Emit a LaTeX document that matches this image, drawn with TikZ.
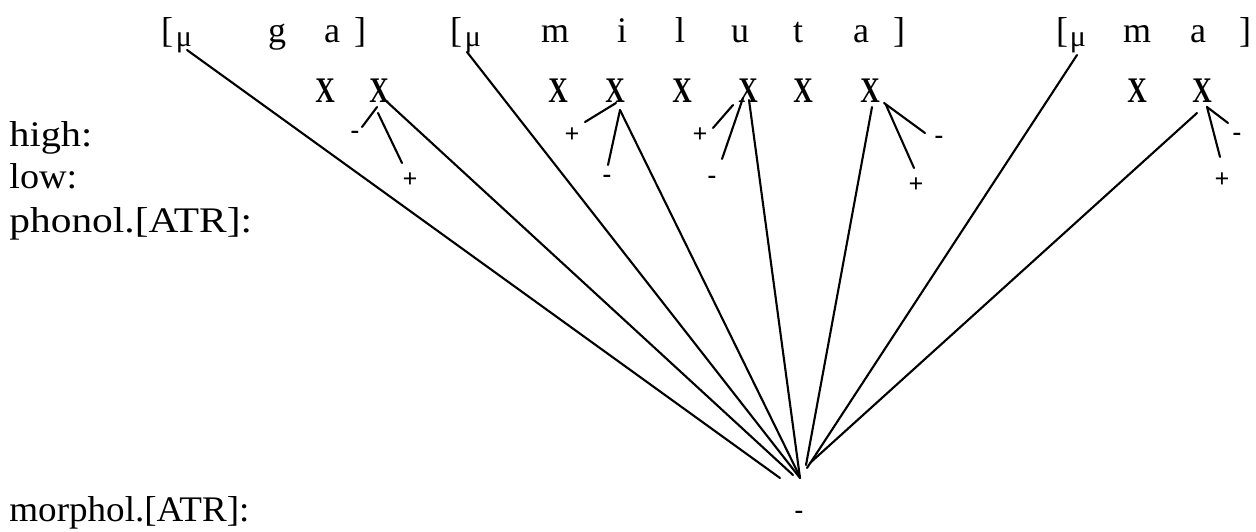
\documentclass[tikz,border=0pt]{standalone}
\usepackage{fontspec}
\setmainfont{Liberation Serif}
\begin{document}
\begin{tikzpicture}[x=0.5pt,y=-0.5pt,
  seg/.style={line width=1.05pt, line cap=round},
  lbl/.style={anchor=base west, inner sep=0pt, font=\fontsize{18}{20}\selectfont},
  seglet/.style={anchor=base, inner sep=0pt, font=\fontsize{18}{20}\selectfont},
  mu/.style={anchor=base, inner sep=0pt, font=\fontsize{15}{16}\selectfont},
  xslot/.style={anchor=base, inner sep=0pt, font=\fontsize{18}{20}\selectfont\bfseries},
  feat/.style={inner sep=0pt, font=\fontsize{13}{14}\selectfont\bfseries}]
\path[use as bounding box] (0,0) rectangle (1256,531);

% labels
\node[lbl] (high) at (9,146) {\scalebox{1.12}[1]{high:}};
\node[lbl] (low) at (9,188) {\scalebox{1.06}[1]{low:}};
\node[lbl] (phonol) at (9,232) {\scalebox{1.15}[1]{phonol.[ATR]:}};
\node[lbl] (morphol) at (9,521) {\scalebox{1.03}[1]{morphol.[ATR]:}};

% top row, group 1
\node[seglet] (g1lb) at (167,42) {[};
\node[mu] (g1mu) at (184,46) {μ};
\node[seglet] (g1g) at (277,42) {g};
\node[seglet] (g1a) at (332,42) {a};
\node[seglet] (g1rb) at (360,42) {]};
% group 2
\node[seglet] (g2lb) at (456,42) {[};
\node[mu] (g2mu) at (473,46) {μ};
\node[seglet] (g2m) at (555,42) {m};
\node[seglet] (g2i) at (622,42) {i};
\node[seglet] (g2l) at (680,42) {l};
\node[seglet] (g2u) at (740,42) {u};
\node[seglet] (g2t) at (798,42) {t};
\node[seglet] (g2a) at (861,42) {a};
\node[seglet] (g2rb) at (899,42) {]};
% group 3
\node[seglet] (g3lb) at (1062,42) {[};
\node[mu] (g3mu) at (1078,46) {μ};
\node[seglet] (g3m) at (1137,42) {m};
\node[seglet] (g3a) at (1198,42) {a};
\node[seglet] (g3rb) at (1245,42) {]};

% X slots
\foreach \n/\xx in {1/325,2/379,3/558,4/615,5/682,6/748,7/803,8/870,9/1137,10/1202}
  \node[xslot] (x\n) at (\xx,102) {\scalebox{0.75}[1]{X}};

% feature values
\node[feat] (f2h) at (355,135) {-};
\node[feat] (f2l) at (410,180) {+};
\node[feat] (f4h) at (572,135) {+};
\node[feat] (f4l) at (607,179) {-};
\node[feat] (f6h) at (700,135) {+};
\node[feat] (f6l) at (712,180) {-};
\node[feat] (f8h) at (939,140) {-};
\node[feat] (f8l) at (916,185) {+};
\node[feat] (f10h) at (1237,137) {-};
\node[feat] (f10l) at (1222,180) {+};
\node[feat] (mminus) at (799,515) {-};

% feature line end points
\coordinate (a2h) at (377,107); \coordinate (b2h) at (362,127);
\coordinate (a2l) at (378,113); \coordinate (b2l) at (402,163);
\coordinate (a4h) at (616,103); \coordinate (b4h) at (585,122);
\coordinate (a4l) at (620,110); \coordinate (b4l) at (608,165);
\coordinate (a6h) at (733,105); \coordinate (b6h) at (713,128);
\coordinate (a6l) at (743,98);  \coordinate (b6l) at (722,159);
\coordinate (a8h) at (884,103); \coordinate (b8h) at (925,133);
\coordinate (a8l) at (886,105); \coordinate (b8l) at (914,168);
\coordinate (a10h) at (1207,107); \coordinate (b10h) at (1228,123);
\coordinate (a10l) at (1207,107); \coordinate (b10l) at (1220,157);
\foreach \k in {2h,2l,4h,4l,6h,6l,8h,8l,10h,10l}
  \draw[seg] (a\k) -- (b\k);

% association lines to the morphological [ATR]
\coordinate (s1) at (187,50);   \coordinate (e1) at (780,478);
\coordinate (s2) at (385,100);  \coordinate (e2) at (793,475);
\coordinate (s3) at (467,52);   \coordinate (e3) at (800,478);
\coordinate (s4) at (620,110);  \coordinate (e4) at (800,477);
\coordinate (s5) at (749,100);  \coordinate (e5) at (800,478);
\coordinate (s6) at (872,107);  \coordinate (e6) at (806,465);
\coordinate (s7) at (1077,55);  \coordinate (e7) at (807,468);
\coordinate (s8) at (1197,113); \coordinate (e8) at (810,463);
\foreach \k in {1,...,8}
  \draw[seg] (s\k) -- (e\k);
\end{tikzpicture}
\end{document}
